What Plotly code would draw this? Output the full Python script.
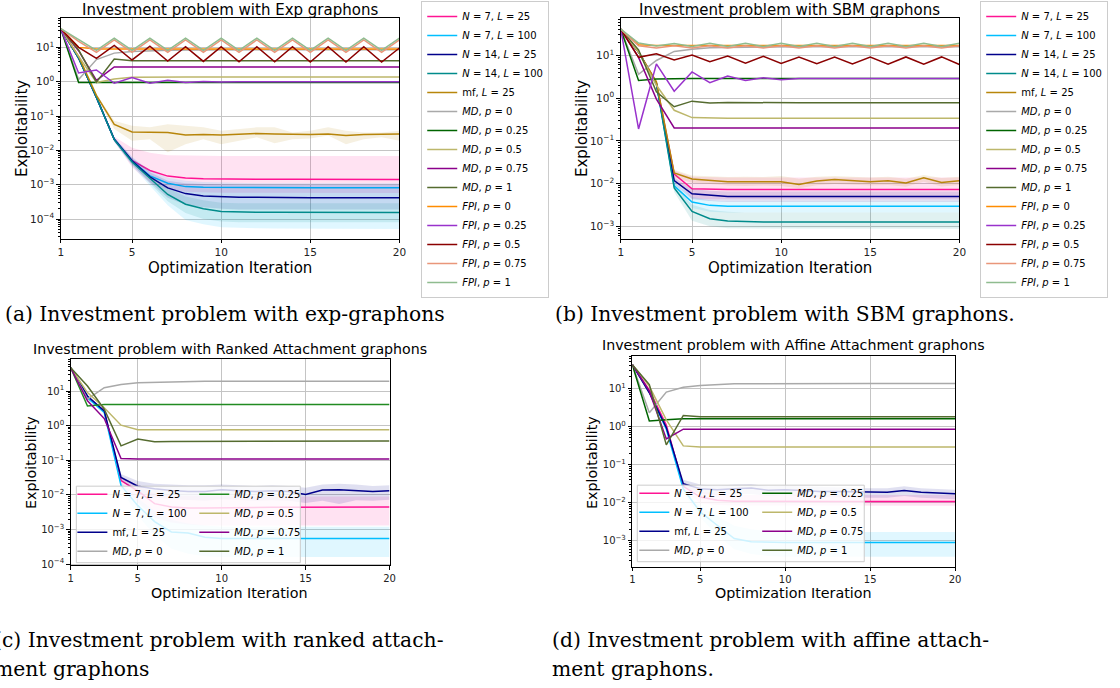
import plotly.graph_objects as go

# ---------------- data ----------------
iterations = [1, 2, 3, 4, 5, 6, 7, 8, 9, 10, 11, 12, 13, 14, 15, 16, 17, 18, 19, 20]
x_tick_vals = [1, 5, 10, 15, 20]
y_tick_vals = [1e-4, 1e-3, 1e-2, 1e-1, 1, 10]
y_tick_text = ["10<sup>−4</sup>", "10<sup>−3</sup>", "10<sup>−2</sup>", "10<sup>−1</sup>", "10<sup>0</sup>", "10<sup>1</sup>"]

# (a) Exp graphons
exp_n7_l25 = [35, 4.9, 0.35, 0.021, 0.0051, 0.0026, 0.00178, 0.00158, 0.0015, 0.00147, 0.00145, 0.00144, 0.00143, 0.00143, 0.00142, 0.00142, 0.00142, 0.00142, 0.00142, 0.00142]
exp_n7_l25_hi = [36, 5.3, 0.38, 0.025, 0.012, 0.0085, 0.0072, 0.0070, 0.0069, 0.0069, 0.0068, 0.0068, 0.0068, 0.0068, 0.0068, 0.0068, 0.0068, 0.0068, 0.0068, 0.0068]
exp_n7_l25_lo = [34, 4.5, 0.32, 0.018, 0.0032, 0.0011, 0.00075, 0.00062, 0.0006, 0.00058, 0.00057, 0.00057, 0.00057, 0.00057, 0.00057, 0.00057, 0.00057, 0.00057, 0.00057, 0.00057]
exp_n7_l100 = [35, 4.9, 0.35, 0.021, 0.0050, 0.0018, 0.0011, 0.00088, 0.00084, 0.00083, 0.00082, 0.00082, 0.00082, 0.00082, 0.00082, 0.00082, 0.00082, 0.00082, 0.00082, 0.00082]
exp_n7_l100_hi = [36, 5.3, 0.38, 0.024, 0.0065, 0.0026, 0.0016, 0.0013, 0.0012, 0.00115, 0.0011, 0.0011, 0.0011, 0.0011, 0.0011, 0.0011, 0.0011, 0.0011, 0.0011, 0.0011]
exp_n7_l100_lo = [34, 4.5, 0.32, 0.018, 0.0035, 0.00096, 0.00025, 0.000093, 0.00007, 0.000058, 0.000055, 0.000054, 0.000053, 0.000053, 0.000052, 0.000052, 0.000052, 0.000051, 0.000051, 0.000051]
exp_n14_l25 = [35, 4.9, 0.35, 0.021, 0.0050, 0.0017, 0.00081, 0.00055, 0.00047, 0.00044, 0.00043, 0.00043, 0.00042, 0.00042, 0.00042, 0.00042, 0.00042, 0.00042, 0.00042, 0.00042]
exp_n14_l25_hi = [36, 5.3, 0.38, 0.024, 0.0062, 0.0023, 0.0013, 0.0011, 0.00105, 0.0010, 0.0010, 0.0010, 0.0010, 0.0010, 0.0010, 0.0010, 0.0010, 0.0010, 0.0010, 0.0010]
exp_n14_l25_lo = [34, 4.5, 0.32, 0.018, 0.0039, 0.0012, 0.00042, 0.00026, 0.00022, 0.0002, 0.00019, 0.00019, 0.00019, 0.00019, 0.00019, 0.00019, 0.00019, 0.00019, 0.00019, 0.00019]
exp_n14_l100 = [35, 4.9, 0.35, 0.0205, 0.0046, 0.0015, 0.00052, 0.00027, 0.0002, 0.000167, 0.00016, 0.000158, 0.000157, 0.000157, 0.000156, 0.000156, 0.000156, 0.000156, 0.000156, 0.000156]
exp_n14_l100_hi = [36, 5.3, 0.38, 0.023, 0.0055, 0.0019, 0.0008, 0.00045, 0.00035, 0.0003, 0.00029, 0.00029, 0.00029, 0.00029, 0.00029, 0.00029, 0.00029, 0.00029, 0.00029, 0.00029]
exp_n14_l100_lo = [34, 4.5, 0.32, 0.018, 0.0038, 0.0011, 0.00033, 0.00015, 0.0001, 0.000085, 0.00008, 0.00008, 0.00008, 0.00008, 0.00008, 0.00008, 0.00008, 0.00008, 0.00008, 0.00008]
exp_mf = [35, 5.5, 0.4, 0.057, 0.0345, 0.034, 0.033, 0.028, 0.029, 0.028, 0.029, 0.031, 0.030, 0.029, 0.029, 0.030, 0.027, 0.029, 0.029, 0.030]
exp_mf_hi = [36, 6.0, 0.44, 0.073, 0.052, 0.047, 0.058, 0.052, 0.047, 0.037, 0.042, 0.047, 0.047, 0.033, 0.037, 0.047, 0.037, 0.033, 0.033, 0.037]
exp_mf_lo = [34, 5.0, 0.36, 0.042, 0.019, 0.021, 0.0088, 0.015, 0.021, 0.015, 0.019, 0.024, 0.016, 0.021, 0.022, 0.027, 0.015, 0.021, 0.024, 0.019]
exp_md_0 = [35, 1.16, 4.4, 6.8, 7.6, 8.0, 8.2, 8.4, 8.5, 8.5, 8.5, 8.5, 8.5, 8.5, 8.5, 8.5, 8.5, 8.5, 8.5, 8.5]
exp_md_025 = [35, 0.95, 0.95, 0.95, 0.95, 0.95, 0.95, 0.95, 0.95, 0.95, 0.95, 0.95, 0.95, 0.95, 0.95, 0.95, 0.95, 0.95, 0.95, 0.95]
exp_md_05 = [35, 5.5, 0.95, 1.2, 1.35, 1.38, 1.38, 1.38, 1.38, 1.38, 1.38, 1.38, 1.38, 1.38, 1.38, 1.38, 1.38, 1.38, 1.38, 1.38]
exp_md_075 = [35, 8.0, 1.1, 2.7, 2.7, 2.7, 2.7, 2.7, 2.7, 2.7, 2.7, 2.7, 2.7, 2.7, 2.7, 2.7, 2.7, 2.7, 2.7, 2.7]
exp_md_1 = [35, 8.5, 0.97, 4.6, 4.1, 4.1, 4.1, 4.1, 4.1, 4.1, 4.1, 4.1, 4.1, 4.1, 4.1, 4.1, 4.1, 4.1, 4.1, 4.1]
exp_fpi_0 = [35, 10.0, 9.0, 8.95, 8.95, 8.95, 8.95, 8.95, 8.95, 8.95, 8.95, 8.95, 8.95, 8.95, 8.95, 8.95, 8.95, 8.95, 8.95, 8.95]
exp_fpi_025 = [35, 1.8, 2.2, 0.9, 1.33, 0.9, 1.1, 0.95, 1.02, 0.98, 1.0, 1.0, 1.0, 1.0, 1.0, 1.0, 1.0, 1.0, 1.0, 1.0]
exp_fpi_05 = [35, 10.0, 4.8, 11.4, 4.3, 10.8, 4.0, 10.5, 3.9, 10.4, 3.8, 10.4, 3.8, 10.4, 3.75, 10.4, 3.75, 10.4, 3.75, 9.6]
exp_fpi_075 = [35, 15.0, 7.2, 16.5, 7.2, 16.5, 7.2, 16.5, 7.2, 16.5, 7.2, 16.5, 7.2, 16.5, 7.2, 16.5, 7.2, 16.5, 7.2, 16.5]
exp_fpi_1 = [35, 17.4, 8.2, 18.6, 8.2, 18.6, 8.2, 18.6, 8.2, 18.6, 8.2, 18.6, 8.2, 18.6, 8.2, 18.6, 8.2, 18.6, 8.2, 18.6]

# (b) SBM graphons
sbm_n7_l25 = [41, 12, 2.3, 0.0168, 0.0076, 0.0073, 0.0073, 0.0073, 0.0073, 0.0073, 0.0073, 0.0073, 0.0073, 0.0073, 0.0073, 0.0073, 0.0073, 0.0073, 0.0073, 0.0073]
sbm_n7_l25_hi = [42, 13, 2.5, 0.020, 0.0145, 0.014, 0.014, 0.014, 0.014, 0.014, 0.014, 0.014, 0.014, 0.014, 0.014, 0.014, 0.014, 0.014, 0.014, 0.014]
sbm_n7_l25_lo = [40, 11, 2.1, 0.013, 0.0045, 0.0043, 0.0043, 0.0043, 0.0043, 0.0043, 0.0043, 0.0043, 0.0043, 0.0043, 0.0043, 0.0043, 0.0043, 0.0043, 0.0043, 0.0043]
sbm_n7_l100 = [41, 12, 2.2, 0.0089, 0.0037, 0.0031, 0.00295, 0.00295, 0.00295, 0.00295, 0.00295, 0.00295, 0.00295, 0.00295, 0.00295, 0.00295, 0.00295, 0.00295, 0.00295, 0.00295]
sbm_n7_l100_hi = [42, 13, 2.4, 0.011, 0.0049, 0.0041, 0.0038, 0.0038, 0.0038, 0.0038, 0.0038, 0.0038, 0.0038, 0.0038, 0.0038, 0.0038, 0.0038, 0.0038, 0.0038, 0.0038]
sbm_n7_l100_lo = [40, 11, 2.0, 0.007, 0.0027, 0.0022, 0.0021, 0.0021, 0.0021, 0.0021, 0.0021, 0.0021, 0.0021, 0.0021, 0.0021, 0.0021, 0.0021, 0.0021, 0.0021, 0.0021]
sbm_n14_l25 = [41, 12, 2.2, 0.0118, 0.0058, 0.0053, 0.0050, 0.0050, 0.0050, 0.0050, 0.0050, 0.0050, 0.0050, 0.0050, 0.0050, 0.0050, 0.0050, 0.0050, 0.0050, 0.0050]
sbm_n14_l25_hi = [42, 13, 2.4, 0.014, 0.0075, 0.0068, 0.0065, 0.0065, 0.0065, 0.0065, 0.0065, 0.0065, 0.0065, 0.0065, 0.0065, 0.0065, 0.0065, 0.0065, 0.0065, 0.0065]
sbm_n14_l25_lo = [40, 11, 2.0, 0.0095, 0.0043, 0.0039, 0.0037, 0.0037, 0.0037, 0.0037, 0.0037, 0.0037, 0.0037, 0.0037, 0.0037, 0.0037, 0.0037, 0.0037, 0.0037, 0.0037]
sbm_n14_l100 = [41, 12, 2.2, 0.0079, 0.00223, 0.00151, 0.00133, 0.00128, 0.00127, 0.00127, 0.00127, 0.00127, 0.00127, 0.00127, 0.00127, 0.00127, 0.00127, 0.00127, 0.00127, 0.00127]
sbm_n14_l100_hi = [42, 13, 2.4, 0.0095, 0.0032, 0.0024, 0.0022, 0.0021, 0.0021, 0.0021, 0.0021, 0.0021, 0.0021, 0.0021, 0.0021, 0.0021, 0.0021, 0.0021, 0.0021, 0.0021]
sbm_n14_l100_lo = [40, 11, 2.0, 0.0064, 0.00135, 0.0010, 0.0009, 0.00088, 0.00088, 0.00088, 0.00088, 0.00088, 0.00088, 0.00088, 0.00088, 0.00088, 0.00088, 0.00088, 0.00088, 0.00088]
sbm_mf = [41, 12, 2.4, 0.0177, 0.0129, 0.0122, 0.0111, 0.0111, 0.0111, 0.0111, 0.0095, 0.0115, 0.0125, 0.0117, 0.0111, 0.0117, 0.0103, 0.0137, 0.0106, 0.0117]
sbm_mf_hi = [42, 13, 2.6, 0.021, 0.0155, 0.0148, 0.0142, 0.0145, 0.0142, 0.015, 0.013, 0.0145, 0.015, 0.0145, 0.014, 0.0145, 0.013, 0.016, 0.0135, 0.0145]
sbm_mf_lo = [40, 11, 2.2, 0.014, 0.0105, 0.0098, 0.009, 0.0088, 0.009, 0.0088, 0.0078, 0.0092, 0.0098, 0.0094, 0.009, 0.0093, 0.0084, 0.011, 0.0086, 0.0093]
sbm_md_0 = [41, 3.6, 7.6, 12.4, 14.0, 15.0, 15.3, 15.6, 15.8, 16.0, 16.0, 16.0, 16.0, 16.0, 16.0, 16.0, 16.0, 16.0, 16.0, 16.0]
sbm_md_025 = [41, 2.6, 2.8, 2.86, 2.86, 2.86, 2.86, 2.86, 2.86, 2.86, 2.86, 2.86, 2.86, 2.86, 2.86, 2.86, 2.86, 2.86, 2.86, 2.86]
sbm_md_05 = [41, 12, 2.0, 0.52, 0.35, 0.34, 0.34, 0.34, 0.34, 0.34, 0.34, 0.34, 0.34, 0.34, 0.34, 0.34, 0.34, 0.34, 0.34, 0.34]
sbm_md_075 = [41, 9.0, 0.95, 0.2, 0.2, 0.2, 0.2, 0.2, 0.2, 0.2, 0.2, 0.2, 0.2, 0.2, 0.2, 0.2, 0.2, 0.2, 0.2, 0.2]
sbm_md_1 = [41, 13.5, 1.4, 0.63, 0.85, 0.77, 0.79, 0.78, 0.78, 0.78, 0.78, 0.78, 0.78, 0.78, 0.78, 0.78, 0.78, 0.78, 0.78, 0.78]
sbm_fpi_0 = [41, 17.7, 17.0, 17.0, 17.0, 17.0, 17.0, 17.0, 17.0, 17.0, 17.0, 17.0, 17.0, 17.0, 17.0, 17.0, 17.0, 17.0, 17.0, 17.0]
sbm_fpi_025 = [41, 0.19, 6.3, 1.45, 4.1, 2.3, 3.3, 2.6, 3.0, 2.7, 2.86, 2.86, 2.86, 2.86, 2.86, 2.86, 2.86, 2.86, 2.86, 2.86]
sbm_fpi_05 = [41, 9.0, 10.9, 7.8, 10.2, 7.1, 9.6, 6.6, 9.5, 6.5, 9.2, 6.4, 9.2, 6.3, 9.2, 6.2, 9.2, 6.2, 9.2, 6.1]
sbm_fpi_075 = [41, 16.8, 14.8, 16.8, 14.8, 16.8, 14.8, 16.8, 14.8, 16.8, 14.8, 16.8, 14.8, 16.8, 14.8, 16.8, 14.8, 16.8, 14.8, 16.8]
sbm_fpi_1 = [41, 19.4, 16.5, 19.0, 16.2, 19.2, 16.2, 19.2, 16.2, 19.2, 16.2, 19.2, 16.2, 19.2, 16.2, 19.2, 16.2, 19.2, 16.2, 19.2]

# (c) Ranked Attachment graphons
rk_n7_l25 = [47, 6.4, 2.66, 0.026, 0.013, 0.0056, 0.0045, 0.0042, 0.0042, 0.0043, 0.0043, 0.0044, 0.0044, 0.0044, 0.0044, 0.0044, 0.0044, 0.0044, 0.0044, 0.0045]
rk_n7_l25_hi = [48, 6.8, 2.8, 0.032, 0.020, 0.011, 0.0095, 0.0092, 0.009, 0.009, 0.009, 0.009, 0.009, 0.009, 0.009, 0.009, 0.009, 0.009, 0.009, 0.009]
rk_n7_l25_lo = [46, 6.0, 2.5, 0.020, 0.006, 0.0022, 0.0016, 0.0014, 0.0013, 0.0013, 0.0013, 0.0013, 0.0013, 0.0013, 0.0013, 0.0013, 0.0013, 0.0013, 0.0013, 0.0013]
rk_n7_l100 = [47, 6.4, 2.4, 0.0187, 0.0049, 0.0017, 0.00085, 0.00079, 0.0006, 0.00055, 0.00055, 0.00055, 0.00055, 0.00055, 0.00055, 0.00055, 0.00055, 0.00055, 0.00055, 0.00055]
rk_n7_l100_hi = [48, 6.8, 2.6, 0.022, 0.008, 0.0035, 0.0019, 0.0015, 0.0013, 0.0012, 0.0012, 0.0012, 0.0012, 0.0012, 0.0012, 0.0012, 0.0012, 0.0012, 0.0012, 0.0012]
rk_n7_l100_lo = [46, 6.0, 2.2, 0.015, 0.0025, 0.0007, 0.00028, 0.0002, 0.00017, 0.00016, 0.00016, 0.00016, 0.00016, 0.00016, 0.00016, 0.00016, 0.00016, 0.00016, 0.00016, 0.00016]
rk_mf = [47, 7.2, 2.66, 0.032, 0.0178, 0.015, 0.0134, 0.0126, 0.0126, 0.0141, 0.0132, 0.0126, 0.0132, 0.0126, 0.0103, 0.0138, 0.0141, 0.0134, 0.0126, 0.0131]
rk_mf_hi = [48, 7.6, 2.8, 0.040, 0.025, 0.021, 0.020, 0.019, 0.019, 0.020, 0.019, 0.018, 0.019, 0.018, 0.016, 0.020, 0.021, 0.020, 0.018, 0.019]
rk_mf_lo = [46, 6.8, 2.5, 0.026, 0.011, 0.0085, 0.0075, 0.007, 0.0068, 0.0075, 0.007, 0.0068, 0.007, 0.0068, 0.0058, 0.0068, 0.0055, 0.007, 0.0068, 0.0072]
rk_md_0 = [47, 5.8, 12.5, 15.5, 17.4, 18.0, 18.5, 18.8, 19.0, 19.0, 19.0, 19.0, 19.0, 19.0, 19.0, 19.0, 19.0, 19.0, 19.0, 19.0]
rk_md_025 = [47, 3.7, 4.1, 4.1, 4.1, 4.1, 4.1, 4.1, 4.1, 4.1, 4.1, 4.1, 4.1, 4.1, 4.1, 4.1, 4.1, 4.1, 4.1, 4.1]
rk_md_05 = [47, 9.0, 3.3, 1.03, 0.76, 0.76, 0.76, 0.76, 0.76, 0.76, 0.76, 0.76, 0.76, 0.76, 0.76, 0.76, 0.76, 0.76, 0.76, 0.76]
rk_md_075 = [47, 5.2, 1.6, 0.113, 0.108, 0.108, 0.108, 0.108, 0.108, 0.108, 0.108, 0.108, 0.108, 0.108, 0.108, 0.108, 0.108, 0.108, 0.108, 0.108]
rk_md_1 = [47, 14.0, 3.0, 0.26, 0.41, 0.34, 0.35, 0.35, 0.35, 0.35, 0.35, 0.35, 0.36, 0.36, 0.36, 0.36, 0.36, 0.36, 0.36, 0.36]

# (d) Affine Attachment graphons
af_n7_l25 = [42, 9.0, 1.1, 0.027, 0.0141, 0.0116, 0.0109, 0.0108, 0.0108, 0.0108, 0.0108, 0.0108, 0.0108, 0.0108, 0.0108, 0.0108, 0.0108, 0.0108, 0.0108, 0.0108]
af_n7_l25_hi = [43, 9.5, 1.2, 0.033, 0.020, 0.017, 0.016, 0.016, 0.016, 0.016, 0.016, 0.016, 0.016, 0.016, 0.016, 0.016, 0.016, 0.016, 0.016, 0.016]
af_n7_l25_lo = [41, 8.5, 1.0, 0.022, 0.0095, 0.0087, 0.0085, 0.0083, 0.0083, 0.0083, 0.0083, 0.0083, 0.0083, 0.0083, 0.0083, 0.0083, 0.0083, 0.0083, 0.0083, 0.0083]
af_n7_l100 = [42, 8.0, 0.85, 0.023, 0.0057, 0.0026, 0.00115, 0.00094, 0.0009, 0.0009, 0.0009, 0.0009, 0.0009, 0.0009, 0.0009, 0.0009, 0.0009, 0.0009, 0.0009, 0.0009]
af_n7_l100_hi = [43, 8.5, 0.9, 0.027, 0.008, 0.0045, 0.0025, 0.002, 0.0018, 0.0017, 0.0017, 0.0017, 0.0017, 0.0017, 0.0017, 0.0017, 0.0017, 0.0017, 0.0017, 0.0017]
af_n7_l100_lo = [41, 7.5, 0.8, 0.019, 0.004, 0.0014, 0.0006, 0.00045, 0.0004, 0.00038, 0.00038, 0.00038, 0.00038, 0.00038, 0.00038, 0.00038, 0.00038, 0.00038, 0.00038, 0.00038]
af_mf = [42, 7.7, 0.94, 0.0315, 0.0232, 0.022, 0.0232, 0.0242, 0.0211, 0.022, 0.021, 0.0198, 0.0198, 0.0198, 0.019, 0.0188, 0.021, 0.0188, 0.0178, 0.0172]
af_mf_hi = [43, 8.2, 1.0, 0.040, 0.030, 0.028, 0.030, 0.031, 0.027, 0.028, 0.027, 0.026, 0.025, 0.025, 0.024, 0.024, 0.027, 0.024, 0.023, 0.022]
af_mf_lo = [41, 7.2, 0.88, 0.025, 0.017, 0.016, 0.017, 0.017, 0.015, 0.016, 0.015, 0.014, 0.014, 0.014, 0.0135, 0.0135, 0.015, 0.0135, 0.0128, 0.0124]
af_md_0 = [42, 2.3, 8.0, 10.8, 12.0, 12.7, 13.2, 13.3, 13.4, 13.4, 13.5, 13.5, 13.5, 13.5, 13.5, 13.5, 13.5, 13.5, 13.5, 13.5]
af_md_025 = [42, 1.4, 1.5, 1.6, 1.6, 1.6, 1.6, 1.6, 1.6, 1.6, 1.6, 1.6, 1.6, 1.6, 1.6, 1.6, 1.6, 1.6, 1.6, 1.6]
af_md_05 = [42, 11.5, 1.5, 0.31, 0.29, 0.29, 0.29, 0.29, 0.29, 0.29, 0.29, 0.29, 0.29, 0.29, 0.29, 0.29, 0.29, 0.29, 0.29, 0.29]
af_md_075 = [42, 8.5, 0.47, 0.85, 0.85, 0.85, 0.85, 0.85, 0.85, 0.85, 0.85, 0.85, 0.85, 0.85, 0.85, 0.85, 0.85, 0.85, 0.85, 0.85]
af_md_1 = [42, 12.7, 0.33, 1.95, 1.8, 1.8, 1.8, 1.8, 1.8, 1.8, 1.8, 1.8, 1.8, 1.8, 1.8, 1.8, 1.8, 1.8, 1.8, 1.8]

# ---------------- labels & styles ----------------
LBL = {
    "n7l25": "<i>N</i> = 7, <i>L</i> = 25",
    "n7l100": "<i>N</i> = 7, <i>L</i> = 100",
    "n14l25": "<i>N</i> = 14, <i>L</i> = 25",
    "n14l100": "<i>N</i> = 14, <i>L</i> = 100",
    "mf": "mf, <i>L</i> = 25",
    "md0": "<i>MD</i>, <i>p</i> = 0",
    "md025": "<i>MD</i>, <i>p</i> = 0.25",
    "md05": "<i>MD</i>, <i>p</i> = 0.5",
    "md075": "<i>MD</i>, <i>p</i> = 0.75",
    "md1": "<i>MD</i>, <i>p</i> = 1",
    "fpi0": "<i>FPI</i>, <i>p</i> = 0",
    "fpi025": "<i>FPI</i>, <i>p</i> = 0.25",
    "fpi05": "<i>FPI</i>, <i>p</i> = 0.5",
    "fpi075": "<i>FPI</i>, <i>p</i> = 0.75",
    "fpi1": "<i>FPI</i>, <i>p</i> = 1",
}
COL = {
    "n7l25": (255, 20, 147), "n7l100": (0, 191, 255), "n14l25": (0, 0, 139),
    "n14l100": (0, 139, 139), "mf": (184, 134, 11), "md0": (169, 169, 169),
    "md025": (0, 100, 0), "md05": (189, 183, 107), "md075": (139, 0, 139),
    "md1": (85, 107, 47), "fpi0": (255, 140, 0), "fpi025": (153, 50, 204),
    "fpi05": (139, 0, 0), "fpi075": (233, 150, 122), "fpi1": (143, 188, 143),
}

fig = go.Figure()


def rgb(c, a=None):
    if a is None:
        return "rgb(%d,%d,%d)" % c
    return "rgba(%d,%d,%d,%.3f)" % (c[0], c[1], c[2], a)


def add_band(hi, lo, key, xa, ya, alpha=0.12, col=None):
    c = col if col else COL[key]
    fig.add_trace(go.Scatter(
        x=iterations + iterations[::-1], y=hi + lo[::-1], mode="lines",
        fill="toself", fillcolor=rgb(c, alpha), line=dict(width=0),
        hoverinfo="skip", showlegend=False, xaxis=xa, yaxis=ya))


def add_line(y, key, xa, ya, legend, col=None):
    c = col if col else COL[key]
    fig.add_trace(go.Scatter(
        x=iterations, y=y, mode="lines", name=LBL[key],
        line=dict(color=rgb(c), width=1.5), xaxis=xa, yaxis=ya, legend=legend))


# (a)
for y, hi, lo, k in [(exp_n7_l25, exp_n7_l25_hi, exp_n7_l25_lo, "n7l25"),
                     (exp_n7_l100, exp_n7_l100_hi, exp_n7_l100_lo, "n7l100"),
                     (exp_n14_l25, exp_n14_l25_hi, exp_n14_l25_lo, "n14l25"),
                     (exp_n14_l100, exp_n14_l100_hi, exp_n14_l100_lo, "n14l100"),
                     (exp_mf, exp_mf_hi, exp_mf_lo, "mf")]:
    add_line(y, k, "x", "y", "legend")
    add_band(hi, lo, k, "x", "y")
for y, k in [(exp_md_0, "md0"), (exp_md_025, "md025"), (exp_md_05, "md05"),
             (exp_md_075, "md075"), (exp_md_1, "md1"), (exp_fpi_0, "fpi0"),
             (exp_fpi_025, "fpi025"), (exp_fpi_05, "fpi05"), (exp_fpi_075, "fpi075"),
             (exp_fpi_1, "fpi1")]:
    add_line(y, k, "x", "y", "legend")

# (b)
for y, hi, lo, k in [(sbm_n7_l25, sbm_n7_l25_hi, sbm_n7_l25_lo, "n7l25"),
                     (sbm_n7_l100, sbm_n7_l100_hi, sbm_n7_l100_lo, "n7l100"),
                     (sbm_n14_l25, sbm_n14_l25_hi, sbm_n14_l25_lo, "n14l25"),
                     (sbm_n14_l100, sbm_n14_l100_hi, sbm_n14_l100_lo, "n14l100"),
                     (sbm_mf, sbm_mf_hi, sbm_mf_lo, "mf")]:
    add_line(y, k, "x2", "y2", "legend2")
    add_band(hi, lo, k, "x2", "y2")
for y, k in [(sbm_md_0, "md0"), (sbm_md_025, "md025"), (sbm_md_05, "md05"),
             (sbm_md_075, "md075"), (sbm_md_1, "md1"), (sbm_fpi_0, "fpi0"),
             (sbm_fpi_025, "fpi025"), (sbm_fpi_05, "fpi05"), (sbm_fpi_075, "fpi075"),
             (sbm_fpi_1, "fpi1")]:
    add_line(y, k, "x2", "y2", "legend2")

# (c)
for y, hi, lo, k in [(rk_n7_l25, rk_n7_l25_hi, rk_n7_l25_lo, "n7l25"),
                     (rk_n7_l100, rk_n7_l100_hi, rk_n7_l100_lo, "n7l100")]:
    add_line(y, k, "x3", "y3", "legend3")
    add_band(hi, lo, k, "x3", "y3")
add_line(rk_mf, "mf", "x3", "y3", "legend3", col=COL["n14l25"])
add_band(rk_mf_hi, rk_mf_lo, "mf", "x3", "y3", col=COL["n14l25"])
add_line(rk_md_0, "md0", "x3", "y3", "legend3")
add_line(rk_md_025, "md025", "x3", "y3", "legend4", col=(34, 139, 34))
add_line(rk_md_05, "md05", "x3", "y3", "legend4")
add_line(rk_md_075, "md075", "x3", "y3", "legend4")
add_line(rk_md_1, "md1", "x3", "y3", "legend4")

# (d)
for y, hi, lo, k in [(af_n7_l25, af_n7_l25_hi, af_n7_l25_lo, "n7l25"),
                     (af_n7_l100, af_n7_l100_hi, af_n7_l100_lo, "n7l100")]:
    add_line(y, k, "x4", "y4", "legend5")
    add_band(hi, lo, k, "x4", "y4")
add_line(af_mf, "mf", "x4", "y4", "legend5", col=COL["n14l25"])
add_band(af_mf_hi, af_mf_lo, "mf", "x4", "y4", col=COL["n14l25"])
add_line(af_md_0, "md0", "x4", "y4", "legend5")
add_line(af_md_025, "md025", "x4", "y4", "legend6")
add_line(af_md_05, "md05", "x4", "y4", "legend6")
add_line(af_md_075, "md075", "x4", "y4", "legend6")
add_line(af_md_1, "md1", "x4", "y4", "legend6")

# ---------------- layout ----------------
W, H = 1120, 688
FONT = "DejaVu Sans"


def px_x(p):
    return p / W


def px_y(p):
    return 1 - p / H


def xaxis(l, r, anchor, fs):
    return dict(domain=[px_x(l), px_x(r)], anchor=anchor, range=[1, 20],
                tickmode="array", tickvals=x_tick_vals,
                showgrid=True, gridcolor="#c4c4c4", gridwidth=1,
                showline=True, mirror=True, linecolor="black", linewidth=1,
                ticks="outside", ticklen=3.5, tickwidth=0.8, tickcolor="black",
                tickfont=dict(family=FONT, size=fs, color="#222"), zeroline=False)


def yaxis(t, b, anchor, rng, fs):
    return dict(domain=[px_y(b), px_y(t)], anchor=anchor, type="log", range=rng,
                tickmode="array", tickvals=y_tick_vals, ticktext=y_tick_text,
                showgrid=True, gridcolor="#c4c4c4", gridwidth=1,
                showline=True, mirror=True, linecolor="black", linewidth=1,
                ticks="outside", ticklen=3.5, tickwidth=0.8, tickcolor="black",
                minor=dict(ticks="outside", ticklen=2, tickwidth=0.6, tickcolor="black",
                           dtick="D1", showgrid=False),
                tickfont=dict(family=FONT, size=fs, color="#222"), zeroline=False)


def legend(xp, yp, box=True):
    d = dict(x=px_x(xp), y=px_y(yp), xanchor="left", yanchor="top",
             font=dict(family=FONT, size=10, color="black"),
             itemwidth=30, tracegroupgap=0)
    if box:
        d.update(bgcolor="rgba(255,255,255,0.85)", bordercolor="#cccccc", borderwidth=1)
    else:
        d.update(bgcolor="rgba(0,0,0,0)", borderwidth=0)
    return d


annotations = []


def text(s, xp, yp, size, family=FONT, angle=0, xanchor="center", color="black"):
    annotations.append(dict(text=s, x=px_x(xp), y=px_y(yp), xref="paper", yref="paper",
                            showarrow=False, xanchor=xanchor, yanchor="middle",
                            textangle=angle, font=dict(family=family, size=size, color=color)))


# titles
text("Investment problem with Exp graphons", 229, 10.5, 15)
text("Investment problem with SBM graphons", 794, 10.5, 15)
text("Investment problem with Ranked Attachment graphons", 229, 351, 14.2)
text("Investment problem with Affine Attachment graphons", 798, 347, 14.2)
# axis labels
text("Optimization Iteration", 229, 270, 15)
text("Optimization Iteration", 794, 270, 15)
text("Optimization Iteration", 229, 596, 14.3)
text("Optimization Iteration", 798, 596, 14.3)
text("Exploitability", 19, 129, 15, angle=-90)
text("Exploitability", 584, 129, 15, angle=-90)
text("Exploitability", 29, 465, 14.3, angle=-90)
text("Exploitability", 595, 465, 14.3, angle=-90)
# captions
SERIF = "DejaVu Serif"
text("(a) Investment problem with exp-graphons", 0, 316, 20.3, SERIF, xanchor="left")
text("(b) Investment problem with SBM graphons.", 555, 316, 20.3, SERIF, xanchor="left")
text("(c) Investment problem with ranked attach-", -11, 644, 20.3, SERIF, xanchor="left")
text("ment graphons", -11, 673, 20.3, SERIF, xanchor="left")
text("(d) Investment problem with affine attach-", 552, 644, 20.3, SERIF, xanchor="left")
text("ment graphons.", 552, 673, 20.3, SERIF, xanchor="left")

shapes = [
    dict(type="rect", xref="paper", yref="paper", x0=px_x(74), x1=px_x(300),
         y0=px_y(566), y1=px_y(489), fillcolor="rgba(255,255,255,0.8)",
         line=dict(color="#cccccc", width=1), layer="above"),
    dict(type="rect", xref="paper", yref="paper", x0=px_x(640), x1=px_x(869),
         y0=px_y(565), y1=px_y(488), fillcolor="rgba(255,255,255,0.8)",
         line=dict(color="#cccccc", width=1), layer="above"),
]

fig.update_layout(
    width=W, height=H, margin=dict(l=0, r=0, t=0, b=0),
    paper_bgcolor="white", plot_bgcolor="white",
    font=dict(family=FONT, color="black"),
    xaxis=xaxis(58.3, 400, "y", 10.5),
    yaxis=yaxis(18.3, 240, "x", [-4.57, 1.85], 10.5),
    xaxis2=xaxis(623.3, 965, "y2", 10.5),
    yaxis2=yaxis(18.3, 240, "x2", [-3.286, 1.87], 10.5),
    xaxis3=xaxis(68.3, 390, "y3", 10),
    yaxis3=yaxis(361, 568.5, "x3", [-4.03, 1.927], 10),
    xaxis4=xaxis(635, 960.7, "y4", 10),
    yaxis4=yaxis(358, 570, "x4", [-3.68, 1.854], 10),
    legend=legend(422, 1),
    legend2=legend(986, 1),
    legend3=legend(70, 482.5, box=False),
    legend4=legend(193, 482.5, box=False),
    legend5=legend(637, 481.5, box=False),
    legend6=legend(761, 481.5, box=False),
    annotations=annotations,
    shapes=shapes,
    showlegend=True,
)

fig.write_html("out.html",
               config={"displayModeBar": False},
               post_script="document.body.style.margin='0px';document.body.style.padding='0px';")
